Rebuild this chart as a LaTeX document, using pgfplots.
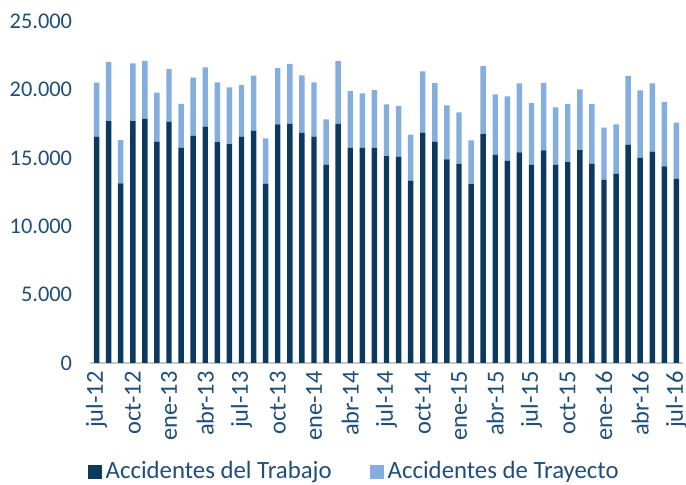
\documentclass[border=0pt]{standalone}
\usepackage{fontspec}
\setmainfont{Carlito}
\usepackage{pgfplots}
\usepackage{pgfplotstable}
\pgfplotsset{compat=1.18}

\definecolor{darkbar}{RGB}{12,58,94}
\definecolor{lightbar}{RGB}{132,174,221}
\definecolor{txtblue}{RGB}{31,78,121}
\definecolor{axisgray}{RGB}{200,200,200}

% monthly accidents, jul-12 .. jul-16
\pgfplotstableread{
x trabajo trayecto
1 16570 3950
2 17710 4340
3 13150 3170
4 17710 4230
5 17880 4230
6 16200 3590
7 17660 3860
8 15740 3220
9 16640 4250
10 17300 4350
11 16160 4390
12 16030 4150
13 16570 3780
14 17010 4020
15 13130 3320
16 17470 4120
17 17500 4390
18 16840 4220
19 16570 3980
20 14520 3320
21 17500 4590
22 15740 4170
23 15740 4000
24 15740 4240
25 15150 3780
26 15100 3730
27 13350 3370
28 16840 4510
29 16200 4290
30 14910 3950
31 14570 3780
32 13100 3200
33 16760 4980
34 15230 4440
35 14790 4730
36 15420 5050
37 14520 4510
38 15570 4930
39 14520 4200
40 14710 4250
41 15590 4440
42 14570 4390
43 13400 3830
44 13840 3630
45 15980 5030
46 15010 4950
47 15470 5000
48 14400 4710
49 13470 4120
}\datatable

\begin{document}
\begin{tikzpicture}
\useasboundingbox (-45.25pt,-61pt) rectangle (297.75pt,181.5pt);
\begin{axis}[
    scale only axis,
    width=296pt, height=170.75pt,
    ybar stacked,
    bar width=0.45,
    xmin=0.5, xmax=49.5,
    ymin=0, ymax=25000,
    ytick={0,5000,...,25000},
    scaled y ticks=false,
    /pgf/number format/.cd, 1000 sep={.}, assume math mode=true,
    /pgfplots/.cd,
    axis x line*=bottom,
    axis y line*=left,
    y axis line style={draw=none},
    x axis line style={draw=axisgray, line width=0.8pt},
    ytick style={draw=none},
    xtick={1,4,...,49},
    xticklabels={jul-12,oct-12,ene-13,abr-13,jul-13,oct-13,ene-14,abr-14,jul-14,oct-14,ene-15,abr-15,jul-15,oct-15,ene-16,abr-16,jul-16},
    xtick style={draw=none},
    extra x ticks={0.5,3.5,...,48.5},
    extra x tick labels={},
    extra x tick style={tick style={draw=axisgray, line width=0.8pt}, major tick length=3pt, tick align=outside},
    yticklabel style={font=\fontsize{11.2}{12}\selectfont, text=txtblue,
        anchor=east, inner sep=0pt, xshift=-9pt},
    xticklabel style={font=\fontsize{12.2}{13}\selectfont, text=txtblue,
        rotate=90, anchor=east, inner sep=0pt, xshift=-4pt},
    legend style={draw=none, fill=none, legend columns=2,
        at={(0.447,-0.318)}, anchor=center,
        font=\fontsize{12.4}{13}\selectfont, text=txtblue,
        /tikz/every even column/.append style={column sep=17pt}},
]
\addplot[fill=darkbar, draw=none,
    legend image code/.code={\fill[darkbar] (0pt,-3.5pt) rectangle (7pt,3.5pt);}]
    table[x=x, y=trabajo] {\datatable};
\addplot[fill=lightbar, draw=none,
    legend image code/.code={\fill[lightbar] (0pt,-3.5pt) rectangle (7pt,3.5pt);}]
    table[x=x, y=trayecto] {\datatable};
\legend{Accidentes del Trabajo, Accidentes de Trayecto}
\end{axis}
\end{tikzpicture}
\end{document}
